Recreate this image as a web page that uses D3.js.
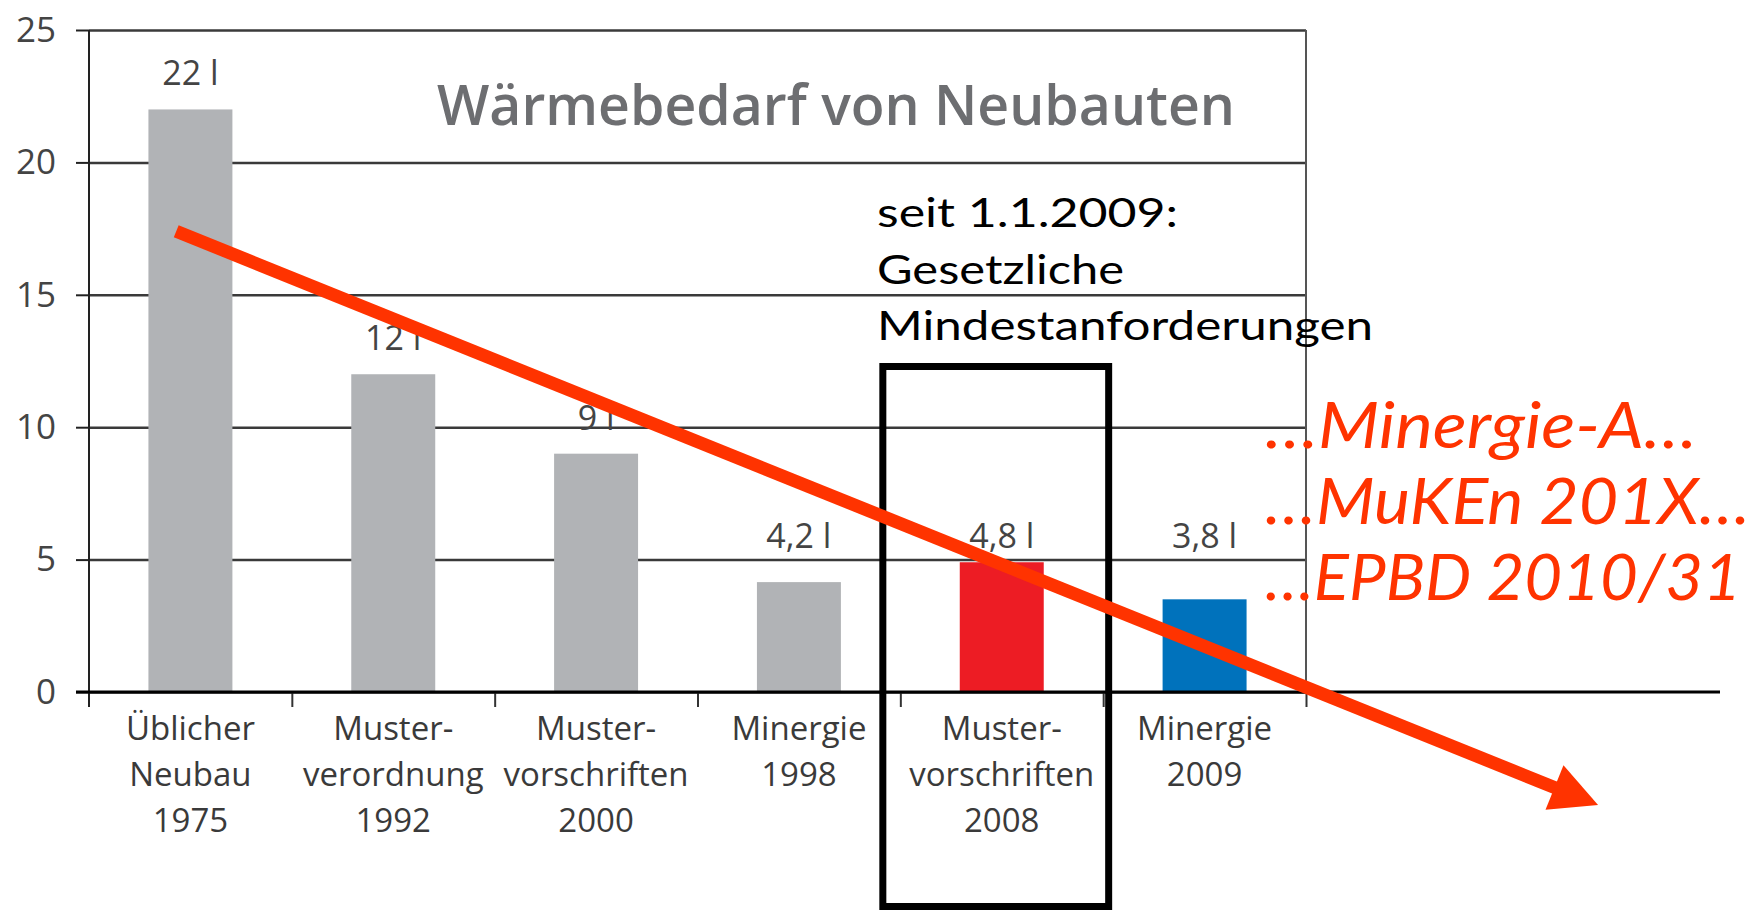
<!DOCTYPE html>
<html>
<head>
<meta charset="utf-8">
<script src="https://cdn.jsdelivr.net/npm/d3@7"></script>
<style>
  body { margin: 0; background: #fff; }
  svg { display: block; }
</style>
</head>
<body>
<script>
// chart data
var categories = [
    ["Üblicher", "Neubau", "1975"],
    ["Muster-", "verordnung", "1992"],
    ["Muster-", "vorschriften", "2000"],
    ["Minergie", "1998"],
    ["Muster-", "vorschriften", "2008"],
    ["Minergie", "2009"]
];
var values = [22, 12, 9, 4.15, 4.9, 3.5];
var valueLabels = ["22 l", "12 l", "9 l", "4,2 l", "4,8 l", "3,8 l"];
var yTicks = [0, 5, 10, 15, 20, 25];
var title = "Wärmebedarf von Neubauten";
var noteLines = ["seit 1.1.2009:", "Gesetzliche", "Mindestanforderungen"];
var outlookLines = ["\u2026Minergie-A\u2026", "\u2026MuKEn 201X\u2026", "\u2026EPBD 2010/31"];
// trend arrow, in (category position, value) units
var trend = [[0.43, 17.4], [7.44, -4.27]];

window.onload = drawChart();

function drawChart(){
    var width = 1753,
        height = 910;

    var left = 89, right = 1306, top = 30, bottom = 692;

    var svg = d3.select("body")
        .append("svg")
        .attr("width", width)
        .attr("height", height);

    //scales
    var x = d3.scaleBand()
        .domain(d3.range(categories.length))
        .range([left, right])
        .paddingInner(0.586)
        .paddingOuter(0.293);

    var xPos = d3.scaleLinear()
        .domain([0, categories.length])
        .range([left, right]);

    var y = d3.scaleLinear()
        .domain([0, 25])
        .range([bottom, top]);

    var color = d3.scaleOrdinal()
        .domain(d3.range(categories.length))
        .range(["#b1b3b6", "#b1b3b6", "#b1b3b6", "#b1b3b6", "#ed1c24", "#0072bc"]);

    //gridlines
    var grid = svg.append("g")
        .attr("transform", "translate(" + left + ",0)")
        .call(d3.axisLeft(y).tickValues(yTicks).tickSize(-(right - left)).tickFormat(""));
    grid.select(".domain").remove();
    grid.selectAll("line").attr("stroke", "#3a3a3a").attr("stroke-width", 2.5);

    //bars
    svg.selectAll(".bar")
        .data(values)
        .enter()
        .append("rect")
        .attr("class", "bar")
        .attr("x", function(d, i){ return x(i); })
        .attr("y", function(d){ return y(d); })
        .attr("width", x.bandwidth())
        .attr("height", function(d){ return y(0) - y(d); })
        .attr("fill", function(d, i){ return color(i); });

    //y axis
    var yAxis = svg.append("g")
        .attr("transform", "translate(" + left + ",0)")
        .call(d3.axisLeft(y).tickValues(yTicks).tickSize(13).tickPadding(20));
    yAxis.select(".domain").remove();
    yAxis.selectAll("line").attr("stroke", "#222").attr("stroke-width", 2);
    yAxis.selectAll("text")
        .attr("font-family", "Open Sans")
        .attr("font-size", 35)
        .attr("fill", "#444");

    //axis lines
    svg.append("line")
        .attr("x1", left).attr("x2", left)
        .attr("y1", top).attr("y2", bottom + 15)
        .attr("stroke", "#222").attr("stroke-width", 2);
    svg.append("line")
        .attr("x1", right).attr("x2", right)
        .attr("y1", top).attr("y2", bottom)
        .attr("stroke", "#555").attr("stroke-width", 2);

    //category ticks
    var xAxis = svg.append("g")
        .attr("transform", "translate(0," + bottom + ")")
        .call(d3.axisBottom(xPos).tickValues(d3.range(1, categories.length + 1)).tickSize(15).tickFormat(""));
    xAxis.select(".domain").remove();
    xAxis.selectAll("line").attr("stroke", "#333").attr("stroke-width", 2);

    //baseline, runs on past the frame
    svg.append("line")
        .attr("x1", left - 13).attr("x2", 1720)
        .attr("y1", y(0)).attr("y2", y(0))
        .attr("stroke", "#000").attr("stroke-width", 3);

    //category labels
    svg.selectAll(".cat")
        .data(categories)
        .enter()
        .append("text")
        .attr("class", "cat")
        .attr("text-anchor", "middle")
        .attr("font-family", "Open Sans")
        .attr("font-size", 33)
        .attr("fill", "#3a3a3a")
        .each(function(d, i){
            d3.select(this).selectAll("tspan")
                .data(d)
                .enter()
                .append("tspan")
                .attr("x", x(i) + x.bandwidth() / 2)
                .attr("y", function(t, j){ return bottom + 48 + j * 46; })
                .text(function(t){ return t; });
        });

    //value labels
    svg.selectAll(".val")
        .data(values)
        .enter()
        .append("text")
        .attr("class", "val")
        .attr("x", function(d, i){ return x(i) + x.bandwidth() / 2; })
        .attr("y", function(d){ return d < 5 ? y(5) - 12 : y(d) - 24; })
        .attr("text-anchor", "middle")
        .attr("font-family", "Open Sans")
        .attr("font-size", 34)
        .attr("fill", "#444")
        .text(function(d, i){ return valueLabels[i]; });

    //title
    svg.append("text")
        .attr("x", 437)
        .attr("y", 125)
        .attr("font-family", "Open Sans")
        .attr("font-weight", 600)
        .attr("font-size", 56)
        .attr("fill", "#6d6e71")
        .attr("textLength", 798)
        .attr("lengthAdjust", "spacingAndGlyphs")
        .text(title);

    //note above the box
    var noteWidths = [301, 247, 496];
    svg.selectAll(".note")
        .data(noteLines)
        .enter()
        .append("text")
        .attr("class", "note")
        .attr("x", 877)
        .attr("y", function(d, i){ return 227 + i * 56.5; })
        .attr("font-family", "Lato")
        .attr("font-size", 40)
        .attr("fill", "#000")
        .attr("textLength", function(d, i){ return noteWidths[i]; })
        .attr("lengthAdjust", "spacingAndGlyphs")
        .text(function(d){ return d; });

    //box around 2008
    svg.append("rect")
        .attr("x", xPos(4) - 17.5)
        .attr("y", 366.5)
        .attr("width", xPos(5) - xPos(4) + 23)
        .attr("height", 540)
        .attr("fill", "none")
        .attr("stroke", "#000")
        .attr("stroke-width", 7);

    //outlook text on the right
    var outlookWidths = [432, 485, 476];
    svg.selectAll(".outlook")
        .data(outlookLines)
        .enter()
        .append("text")
        .attr("class", "outlook")
        .attr("x", 1265)
        .attr("y", function(d, i){ return 448 + i * 76; })
        .attr("font-family", "Lato")
        .attr("font-style", "italic")
        .attr("font-size", 64)
        .attr("fill", "#ff3300")
        .attr("textLength", function(d, i){ return outlookWidths[i]; })
        .attr("lengthAdjust", "spacingAndGlyphs")
        .text(function(d){ return d; });

    //trend arrow
    var x0 = xPos(trend[0][0]), y0 = y(trend[0][1]),
        x1 = xPos(trend[1][0]), y1 = y(trend[1][1]);
    var len = Math.hypot(x1 - x0, y1 - y0),
        ux = (x1 - x0) / len, uy = (y1 - y0) / len;
    var headLen = 47, headHalf = 24;
    var bx = x1 - ux * headLen, by = y1 - uy * headLen;

    svg.append("line")
        .attr("x1", x0).attr("y1", y0)
        .attr("x2", bx + ux * 2).attr("y2", by + uy * 2)
        .attr("stroke", "#ff3300")
        .attr("stroke-width", 13);

    svg.append("path")
        .attr("d", "M" + x1 + "," + y1 +
            "L" + (bx - uy * headHalf) + "," + (by + ux * headHalf) +
            "L" + (bx + uy * headHalf) + "," + (by - ux * headHalf) + "Z")
        .attr("fill", "#ff3300");
};
</script>
</body>
</html>
